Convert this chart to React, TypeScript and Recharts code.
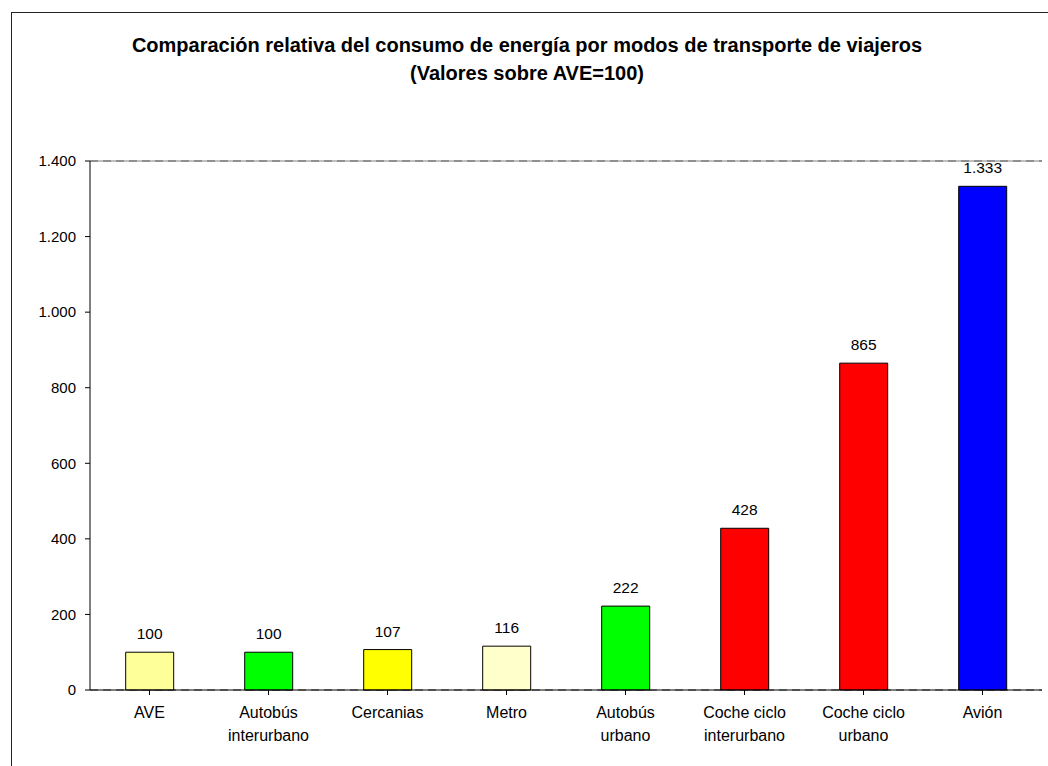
import React from "react";
import {
  BarChart,
  Bar,
  XAxis,
  YAxis,
  CartesianGrid,
  Cell,
  LabelList,
  ReferenceLine,
} from "recharts";

const categories = [
  "AVE",
  "Autobús\ninterurbano",
  "Cercanias",
  "Metro",
  "Autobús\nurbano",
  "Coche ciclo\ninterurbano",
  "Coche ciclo\nurbano",
  "Avión",
];
const values = [100, 100, 107, 116, 222, 428, 865, 1333];
const barColors = [
  "#FFFF99",
  "#00FF00",
  "#FFFF00",
  "#FFFFCC",
  "#00FF00",
  "#FF0000",
  "#FF0000",
  "#0000FF",
];
const yTicks = [0, 200, 400, 600, 800, 1000, 1200, 1400];
const titleLines = [
  "Comparación relativa del consumo de energía por modos de transporte de viajeros",
  "(Valores sobre AVE=100)",
];

const data = categories.map((c, i) => ({ name: c, value: values[i] }));

const FONT = "'Liberation Sans', Arial, sans-serif";

const fmt = (v: any) =>
  String(v).replace(/\B(?=(\d{3})+(?!\d))/g, ".");

const XTick = (props: any) => {
  const { x, y, payload } = props;
  const lines = String(payload.value).split("\n");
  return (
    <g transform={`translate(${x},${y})`}>
      <text
        textAnchor="middle"
        fontSize={16}
        fontFamily={FONT}
        fill="#000"
      >
        {lines.map((l: string, i: number) => (
          <tspan key={i} x={0} y={23 + i * 23}>
            {l}
          </tspan>
        ))}
      </text>
    </g>
  );
};

export default function App() {
  return (
    <div
      style={{
        position: "fixed",
        left: 0,
        top: 0,
        width: 1048,
        height: 766,
        overflow: "hidden",
        background: "#fff",
      }}
    >
      <div
        style={{
          position: "absolute",
          left: 11,
          top: 12,
          width: 1100,
          height: 900,
          border: "1px solid #222",
        }}
      />
      <div
        style={{
          position: "absolute",
          left: 0,
          top: 0,
          width: 1054,
          textAlign: "center",
          fontFamily: FONT,
          fontWeight: "bold",
          fontSize: 20,
          color: "#000",
        }}
      >
        <div style={{ position: "absolute", top: 35, width: "100%", lineHeight: "20px", whiteSpace: "nowrap" }}>
          {titleLines[0]}
        </div>
        <div style={{ position: "absolute", top: 63, width: "100%", lineHeight: "20px", whiteSpace: "nowrap" }}>
          {titleLines[1]}
        </div>
      </div>
      <div style={{ position: "absolute", left: 0, top: 0 }}>
        <BarChart
          width={1048}
          height={766}
          data={data}
          margin={{ top: 161, right: 6, bottom: 16, left: 30 }}
          barCategoryGap="30%"
        >
          <CartesianGrid
            horizontal
            vertical={false}
            stroke="#404040"
            strokeDasharray="8 5"
          />
          <ReferenceLine yAxisId="left" y={1400} stroke="#808080" />
          <XAxis
            dataKey="name"
            interval={0}
            height={60}
            tickLine={{ stroke: "#000" }}
            axisLine={{ stroke: "#000" }}
            tickSize={5}
            tickMargin={0}
            tick={<XTick />}
          />
          <YAxis
            yAxisId="left"
            domain={[0, 1400]}
            ticks={yTicks}
            width={60}
            tickSize={5}
            tickMargin={9}
            tickFormatter={fmt}
            axisLine={{ stroke: "#000" }}
            tickLine={{ stroke: "#000" }}
            tick={{ fill: "#000", fontSize: 15, fontFamily: FONT }}
          />
          <YAxis
            yAxisId="right"
            orientation="right"
            domain={[0, 1400]}
            width={0}
            tick={false}
            tickLine={false}
            axisLine={{ stroke: "#808080" }}
          />
          <Bar
            yAxisId="left"
            dataKey="value"
            stroke="#000"
            strokeWidth={1}
            isAnimationActive={false}
          >
            {data.map((d, i) => (
              <Cell key={i} fill={barColors[i]} />
            ))}
            <LabelList
              dataKey="value"
              position="top"
              offset={13}
              formatter={fmt}
              style={{ fill: "#000", fontSize: 15.5, fontFamily: FONT }}
            />
          </Bar>
        </BarChart>
      </div>
    </div>
  );
}
